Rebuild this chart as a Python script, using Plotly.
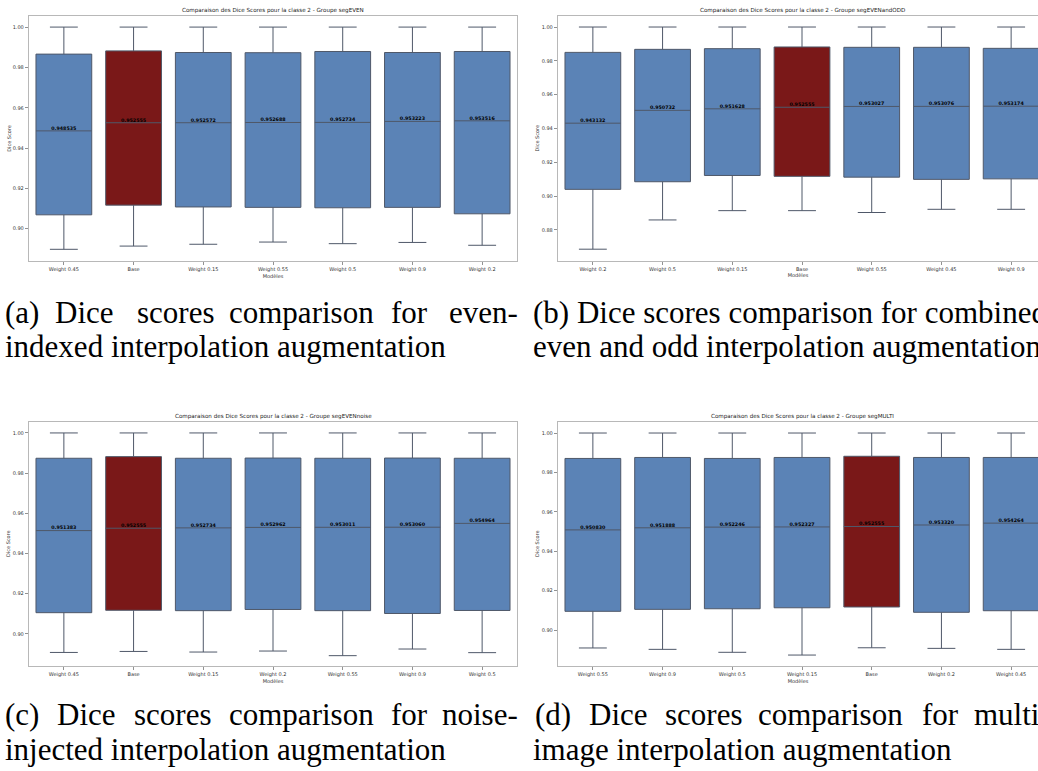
import plotly.graph_objects as go

W, H = 1038, 771

groups = ["segEVEN", "segEVENandODD", "segEVENnoise", "segMULTI"]

models_a = ["Weight 0.45", "Base", "Weight 0.15", "Weight 0.55", "Weight 0.5", "Weight 0.9", "Weight 0.2"]
med_a = [0.948535, 0.952555, 0.952572, 0.952688, 0.952734, 0.953223, 0.953516]
q1_a = [0.9069, 0.9117, 0.9108, 0.9106, 0.9104, 0.9106, 0.9074]
q3_a = [0.9866, 0.9882, 0.9874, 0.9873, 0.9879, 0.9874, 0.9879]
low_a = [0.8898, 0.8914, 0.8923, 0.8934, 0.8926, 0.8932, 0.8918]
high_a = [1.0, 1.0, 1.0, 1.0, 1.0, 1.0, 1.0]

models_b = ["Weight 0.2", "Weight 0.5", "Weight 0.15", "Base", "Weight 0.55", "Weight 0.45", "Weight 0.9"]
med_b = [0.943132, 0.950732, 0.951628, 0.952555, 0.953027, 0.953076, 0.953174]
q1_b = [0.9040, 0.9085, 0.9122, 0.9117, 0.9112, 0.9099, 0.9102]
q3_b = [0.9850, 0.9868, 0.9872, 0.9882, 0.9880, 0.9880, 0.9874]
low_b = [0.8686, 0.8859, 0.8914, 0.8914, 0.8903, 0.8922, 0.8922]
high_b = [1.0, 1.0, 1.0, 1.0, 1.0, 1.0, 1.0]

models_c = ["Weight 0.45", "Base", "Weight 0.15", "Weight 0.2", "Weight 0.55", "Weight 0.9", "Weight 0.5"]
med_c = [0.951383, 0.952555, 0.952734, 0.952962, 0.953011, 0.953060, 0.954964]
q1_c = [0.9105, 0.9117, 0.9115, 0.9121, 0.9115, 0.9101, 0.9116]
q3_c = [0.9874, 0.9882, 0.9874, 0.9875, 0.9874, 0.9875, 0.9874]
low_c = [0.8907, 0.8912, 0.8909, 0.8914, 0.8891, 0.8924, 0.8906]
high_c = [1.0, 1.0, 1.0, 1.0, 1.0, 1.0, 1.0]

models_d = ["Weight 0.55", "Weight 0.9", "Weight 0.5", "Weight 0.15", "Base", "Weight 0.2", "Weight 0.45"]
med_d = [0.950830, 0.951888, 0.952246, 0.952327, 0.952555, 0.953320, 0.954264]
q1_d = [0.9095, 0.9105, 0.9108, 0.9113, 0.9117, 0.9090, 0.9098]
q3_d = [0.9871, 0.9876, 0.9871, 0.9876, 0.9882, 0.9876, 0.9876]
low_d = [0.8909, 0.8902, 0.8887, 0.8873, 0.8910, 0.8907, 0.8902]
high_d = [1.0, 1.0, 1.0, 1.0, 1.0, 1.0, 1.0]

captions_line1 = {
    "a": ["(a)", "Dice", "scores", "comparison", "for", "even-"],
    "c": ["(c)", "Dice", "scores", "comparison", "for", "noise-"],
    "d": ["(d)", "Dice", "scores", "comparison", "for", "multi-"],
}
caption_b1 = "(b) Dice scores comparison for combined"
captions_line2 = {
    "a": "indexed interpolation augmentation",
    "b": "even and odd interpolation augmentation",
    "c": "injected interpolation augmentation",
    "d": "image interpolation augmentation",
}

BLUE = "#5b83b6"
RED = "#7a1818"
EDGE = "#4f5869"


def px(x):
    return x / W


def py(y):
    return 1 - y / H


panels = [
    dict(models=models_a, med=med_a, q1=q1_a, q3=q3_a, low=low_a, high=high_a,
         x0=29, x1=517, top=16, bot=261, yr=[0.8840, 1.0055], full=True),
    dict(models=models_b, med=med_b, q1=q1_b, q3=q3_b, low=low_b, high=high_b,
         x0=558, x1=1046, top=15.7, bot=260.7, yr=[0.8618, 1.0067], full=False),
    dict(models=models_c, med=med_c, q1=q1_c, q3=q3_c, low=low_c, high=high_c,
         x0=29, x1=517, top=421.7, bot=665.7, yr=[0.8841, 1.0056], full=True),
    dict(models=models_d, med=med_d, q1=q1_d, q3=q3_d, low=low_d, high=high_d,
         x0=558, x1=1046, top=421.7, bot=665.7, yr=[0.8819, 1.00575], full=False),
]

fig = go.Figure()
layout = {}
annotations = []

for i, p in enumerate(panels):
    n = "" if i == 0 else str(i + 1)
    xa, ya = "x" + n, "y" + n
    idx_blue = [k for k, m in enumerate(p["models"]) if m != "Base"]
    idx_red = [k for k, m in enumerate(p["models"]) if m == "Base"]
    for idxs, col in ((idx_blue, BLUE), (idx_red, RED)):
        fig.add_trace(go.Box(
            x=[p["models"][k] for k in idxs],
            q1=[p["q1"][k] for k in idxs],
            median=[p["med"][k] for k in idxs],
            q3=[p["q3"][k] for k in idxs],
            lowerfence=[p["low"][k] for k in idxs],
            upperfence=[p["high"][k] for k in idxs],
            fillcolor=col, line=dict(color=EDGE, width=1),
            width=0.8, whiskerwidth=0.5, boxpoints=False,
            xaxis=xa, yaxis=ya, hoverinfo="skip",
        ))
    fig.add_trace(go.Scatter(
        x=p["models"], y=p["med"], mode="text",
        text=[f"{v:.6f}" for v in p["med"]], textposition="top center",
        textfont=dict(family="DejaVu Sans", size=4.8, color="black", weight="bold"),
        xaxis=xa, yaxis=ya, hoverinfo="skip", cliponaxis=False,
    ))
    spacing = (p["x1"] - p["x0"]) / 7.0
    right = min(p["x1"], W)
    xmax = -0.5 + (right - p["x0"]) / spacing
    layout["xaxis" + n] = dict(
        domain=[px(p["x0"]), px(right)], anchor=ya, range=[-0.5, xmax],
        type="category", categoryorder="array", categoryarray=p["models"],
        showline=True, linecolor="#b8b8b8", linewidth=1.2, mirror=True,
        ticks="outside", ticklen=3, tickcolor="#777", tickwidth=0.8,
        tickfont=dict(family="DejaVu Sans", size=5, color="#333"),
        title=dict(text="Modèles", font=dict(family="DejaVu Sans", size=5, color="#333"), standoff=1),
        showgrid=False, zeroline=False, fixedrange=True,
    )
    layout["yaxis" + n] = dict(
        domain=[py(p["bot"]), py(p["top"])], anchor=xa, range=p["yr"],
        tickformat=".2f", dtick=0.02, tick0=0.0,
        showline=True, linecolor="#b8b8b8", linewidth=1.2, mirror=p["full"],
        ticks="outside", ticklen=3, tickcolor="#777", tickwidth=0.8,
        tickfont=dict(family="DejaVu Sans", size=5, color="#333"),
        title=dict(text="Dice Score", font=dict(family="DejaVu Sans", size=5, color="#333"), standoff=1),
        showgrid=False, zeroline=False, fixedrange=True,
    )
    annotations.append(dict(
        text=f"Comparaison des Dice Scores pour la classe 2 - Groupe {groups[i]}",
        x=px((p["x0"] + p["x1"]) / 2), y=py(p["top"] - 5), xref="paper", yref="paper",
        xanchor="center", yanchor="middle", showarrow=False,
        font=dict(family="DejaVu Sans", size=5.6, color="#222"),
    ))

# captions
CAP_FONT = dict(family="Liberation Serif", size=31, color="black")
SHIFT = 0.35 * 31


def cap(text, x, ybase, anchor):
    annotations.append(dict(
        text=text, x=px(x), y=py(ybase - SHIFT), xref="paper", yref="paper",
        xanchor=anchor, yanchor="middle", showarrow=False, font=CAP_FONT,
    ))


line1_pos = {
    "a": [(3, "left"), (84, "center"), (175, "center"), (301, "center"), (409.5, "center"), (520, "right")],
    "c": [(3, "left"), (86, "center"), (172, "center"), (301, "center"), (409.5, "center"), (520, "right")],
    "d": [(533, "left"), (618, "center"), (703, "center"), (830, "center"), (940, "center"), (972, "left")],
}
base1 = {"a": 323.5, "b": 323.5, "c": 725.5, "d": 725.5}
base2 = {"a": 357, "b": 357, "c": 760, "d": 760}

for key, words in captions_line1.items():
    for w, (xx, anc) in zip(words, line1_pos[key]):
        cap(w, xx, base1[key], anc)
cap(caption_b1, 531, base1["b"], "left")
for key, txt in captions_line2.items():
    cap(txt, 3 if key in ("a", "c") else 531, base2[key], "left")

fig.update_layout(
    width=W, height=H, margin=dict(l=0, r=0, t=0, b=0),
    paper_bgcolor="white", plot_bgcolor="white",
    showlegend=False, boxmode="overlay", annotations=annotations, **layout,
)

fig.write_html(
    "out.html",
    config={"displayModeBar": False, "staticPlot": True},
    post_script="document.body.style.margin='0';document.body.style.overflow='hidden';",
)
